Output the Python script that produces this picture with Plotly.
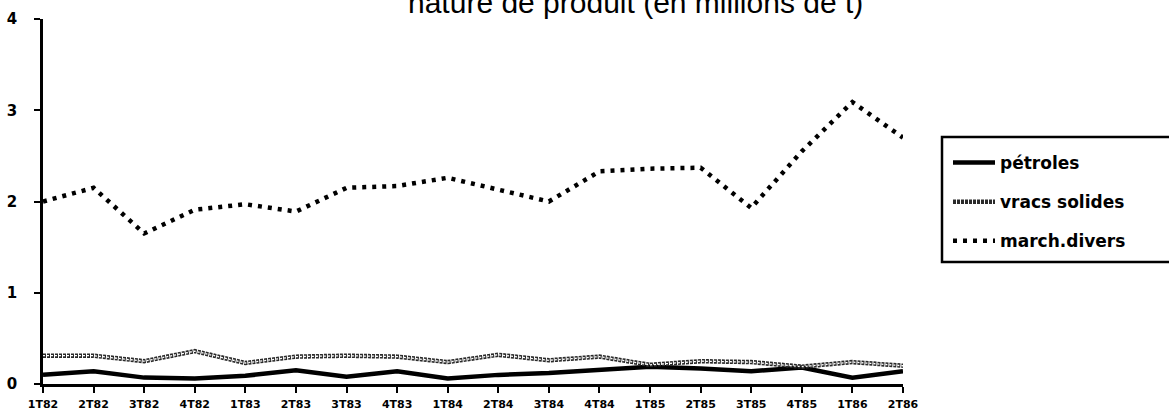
import plotly.graph_objects as go

quarters = ["1T82", "2T82", "3T82", "4T82", "1T83", "2T83", "3T83", "4T83",
            "1T84", "2T84", "3T84", "4T84", "1T85", "2T85", "3T85", "4T85",
            "1T86", "2T86"]

petroles = [0.10, 0.14, 0.07, 0.06, 0.09, 0.15, 0.08, 0.14,
            0.06, 0.10, 0.12, 0.15, 0.19, 0.17, 0.14, 0.18,
            0.07, 0.14]

vracs_solides = [0.31, 0.31, 0.25, 0.36, 0.23, 0.30, 0.31, 0.30,
                 0.24, 0.32, 0.26, 0.30, 0.21, 0.25, 0.24, 0.19,
                 0.24, 0.20]

march_divers = [2.00, 2.15, 1.65, 1.91, 1.97, 1.89, 2.15, 2.17,
                2.26, 2.13, 2.00, 2.33, 2.36, 2.37, 1.93, 2.55,
                3.09, 2.70]

y_ticks = [0, 1, 2, 3, 4]

TITLE_FONT = "Liberation Sans, Arial, Helvetica, sans-serif"
BOLD_FONT = "DejaVu Sans, Verdana, sans-serif"

W, H = 1169, 414
L, R, T, B = 43, 266, 19, 30
PW, PH = W - L - R, H - T - B


def px_x(x):
    return (x - L) / PW


def px_y(y):
    return (H - B - y) / PH


fig = go.Figure()

fig.add_trace(go.Scatter(
    x=quarters, y=petroles, name="pétroles", mode="lines",
    line=dict(color="black", width=4.5), legendgroup="a",
))
fig.add_trace(go.Scatter(
    x=quarters, y=vracs_solides, name="vracs solides", mode="lines",
    line=dict(color="#2a2a2a", width=4.5, dash="3px,1px"), legendgroup="b",
))
fig.add_trace(go.Scatter(
    x=quarters, y=vracs_solides, name="vracs solides", mode="lines",
    line=dict(color="white", width=1.3, dash="2px,2px"), showlegend=False,
    hoverinfo="skip",
))
fig.add_trace(go.Scatter(
    x=quarters, y=march_divers, name="march.divers", mode="lines",
    line=dict(color="black", width=4.5, dash="4px,6px"), legendgroup="c",
))

fig.update_layout(
    width=W, height=H,
    margin=dict(l=L, r=R, t=T, b=B, autoexpand=False),
    paper_bgcolor="white", plot_bgcolor="white",
    font=dict(family=BOLD_FONT, color="black"),
    showlegend=True,
    legend=dict(
        x=px_x(948), y=px_y(145), xanchor="left", yanchor="top",
        borderwidth=0, bgcolor="rgba(0,0,0,0)",
        font=dict(size=17, family=BOLD_FONT, weight="bold"),
        tracegroupgap=14, itemwidth=42,
    ),
    shapes=[dict(
        type="rect", xref="paper", yref="paper",
        x0=px_x(942), x1=px_x(1175), y0=px_y(262), y1=px_y(137),
        line=dict(color="black", width=2.5), fillcolor="rgba(0,0,0,0)",
    )],
    annotations=[dict(
        text="nature de produit (en millions de t)",
        xref="paper", yref="paper", x=px_x(635), y=px_y(2.2),
        xanchor="center", yanchor="middle",
        showarrow=False, font=dict(size=30, family=TITLE_FONT),
    )],
)

fig.update_xaxes(
    type="category", range=[0, len(quarters) - 1], automargin=False,
    showline=True, linecolor="black", linewidth=2.5,
    ticks="outside", ticklen=6, tickwidth=2, tickcolor="black",
    showgrid=False, zeroline=False, ticklabelstandoff=2,
    tickfont=dict(size=11, family=BOLD_FONT, weight="bold"),
    tickangle=0,
)
fig.update_yaxes(
    range=[0, 4], tickvals=y_ticks, ticktext=[str(v) for v in y_ticks],
    automargin=False,
    showline=True, linecolor="black", linewidth=2.5,
    ticks="outside", ticklen=6, tickwidth=2, tickcolor="black",
    showgrid=False, zeroline=False, ticklabelstandoff=14,
    tickfont=dict(size=15, family=BOLD_FONT, weight="bold"),
)

fig.write_html("out.html", config={"displayModeBar": False},
               post_script="document.body.style.margin='0';")
